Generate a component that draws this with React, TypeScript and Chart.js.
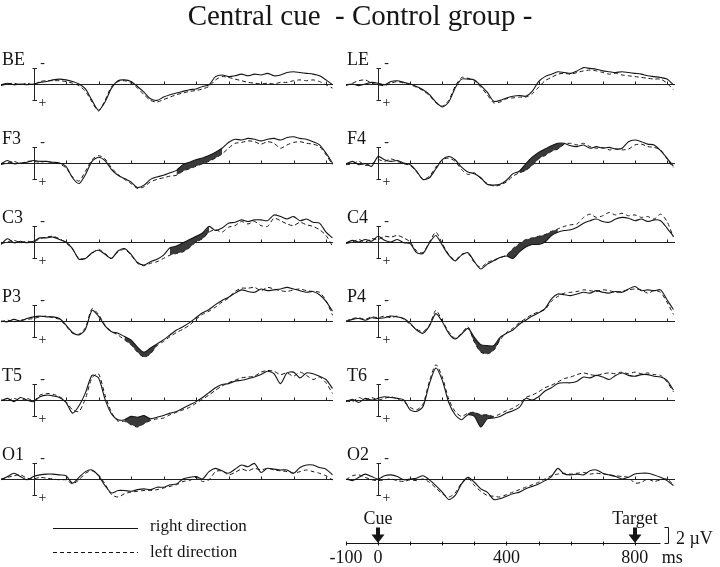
import React, { useEffect, useRef } from "react";
import { Chart, registerables } from "chart.js";

Chart.register(...registerables);

// ---------- data (µV, positive = downward, negativity plotted up) ----------
const times = [
  -100, -80, -60, -40, -20, 0, 20, 40, 60, 80,
  100, 120, 140, 160, 180, 200, 220, 240, 260, 280,
  300, 320, 340, 360, 380, 400, 420, 440, 460, 480,
  500, 520, 540, 560, 580, 600, 620, 640, 660, 680,
  700, 720, 740, 760, 780, 800, 820, 840, 860, 880,
  900, 920,
];

const BE_right = [
  0.1, -0.1, 0.1, 0, 0.1, 0, -0.2, -0.3, -0.5, -0.6,
  -0.5, -0.3, 0, 0.6, 2.0, 3.2, 2.2, 0.5, -0.4, -0.5,
  -0.3, 0.3, 1.0, 1.8, 2.0, 1.6, 1.3, 1.1, 0.9, 0.7,
  0.6, 0.3, 0.1, -0.9, -1.1, -0.9, -1.0, -1.2, -1.0, -1.2,
  -1.1, -1.3, -1.0, -1.1, -1.4, -1.5, -1.4, -1.3, -1.2, -1.0,
  -0.5, 0.1,
];
const BE_left = [
  0.2, 0, -0.1, 0.1, -0.1, 0.1, -0.3, -0.4, -0.4, -0.4,
  -0.3, -0.1, 0.2, 0.9, 2.2, 3.3, 2.0, 0.3, -0.3, -0.4,
  -0.1, 0.5, 1.3, 2.0, 2.2, 1.9, 1.6, 1.3, 1.1, 0.9,
  0.8, 0.6, 0.3, -0.5, -0.9, -0.8, -0.6, -0.4, -0.2, -0.1,
  0, -0.1, 0, -0.2, -0.2, -0.4, -0.5, -0.4, -0.5, -0.3,
  0.1, 0.5,
];

const LE_right = [
  0.1, 0, 0.2, 0, -0.2, -0.1, 0.1, -0.3, -0.4, -0.2,
  0, 0.3, 0.7, 1.3, 2.2, 2.8, 2.2, 0.5, -0.6, -0.6,
  -0.5, 0.2, 1.0, 2.1, 2.0, 1.7, 1.5, 1.4, 1.5, 0.9,
  -0.3, -0.9, -1.2, -1.5, -1.4, -1.3, -1.6, -2.0, -1.9, -1.8,
  -1.6, -1.5, -1.4, -1.5, -1.4, -1.3, -1.2, -1.0, -0.9, -0.8,
  -0.6, 0.1,
];
const LE_left = [
  0.2, -0.1, -0.4, -0.5, -0.1, 0.1, 0.2, -0.1, -0.3, -0.1,
  0.1, 0.4, 0.8, 1.4, 2.3, 2.7, 2.0, 0.3, -0.8, -0.7,
  -0.4, 0.4, 1.3, 2.3, 2.2, 1.8, 1.7, 1.6, 1.6, 1.2,
  0.4, -0.4, -0.8, -1.2, -1.3, -1.2, -1.4, -1.6, -1.7, -1.6,
  -1.4, -1.2, -1.3, -1.1, -1.0, -0.9, -0.8, -0.7, -0.6, -0.6,
  -0.1, 0.7,
];

const F3_right = [
  0.1, -0.3, 0.1, 0, -0.1, -0.3, -0.2, -0.2, -0.1, 0,
  0.4, 1.8, 2.5, 1.4, -0.2, -0.7, -0.3, 0.8, 1.5, 1.9,
  2.3, 3.0, 2.7, 2.0, 1.7, 1.5, 1.2, 0.9, 0.2, -0.1,
  -0.4, -0.6, -0.9, -1.3, -1.8, -2.5, -2.9, -2.8, -3.0, -2.9,
  -2.7, -2.9, -3.0, -2.8, -3.1, -3.2, -3.0, -2.9, -2.6, -2.2,
  -1.2, 0,
];
const F3_left = [
  0.2, 0, -0.2, 0.1, -0.2, -0.2, -0.1, -0.2, 0, 0.1,
  0.6, 1.7, 2.2, 1.0, -0.4, -0.9, -0.5, 0.6, 1.4, 2.0,
  2.5, 3.1, 2.9, 2.3, 2.0, 1.8, 1.6, 1.5, 1.0, 0.7,
  0.4, 0.1, -0.2, -0.6, -1.1, -1.8, -2.4, -2.5, -2.7, -2.6,
  -2.3, -2.6, -2.4, -1.8, -2.2, -2.5, -2.6, -2.4, -2.3, -2.0,
  -1.0, 0.2,
];
const F3_shade = [440, 580];

const F4_right = [
  0.1, -0.2, 0.2, 0.1, 0.4, -0.8, -0.4, -0.2, -0.3, 0,
  0.2, 1.0, 2.0, 1.8, 0.7, -0.4, -0.8, -0.4, 0.5, 1.1,
  1.3, 1.8, 2.6, 2.7, 2.6, 2.1, 1.3, 1.0, 0.1, -0.7,
  -1.3, -1.7, -2.1, -2.4, -2.4, -2.1, -2.0, -2.2, -1.8, -2.0,
  -1.8, -1.9, -1.7, -1.8, -2.6, -2.8, -2.6, -2.3, -2.2, -1.5,
  -0.6, 0.4,
];
const F4_left = [
  0.2, 0.1, -0.2, 0.3, 0.1, -0.4, -0.2, -0.5, -0.2, 0.1,
  0.3, 1.1, 2.0, 1.6, 0.5, -0.4, -0.6, -0.2, 0.8, 1.4,
  1.2, 1.9, 2.5, 2.8, 2.7, 2.3, 1.6, 1.2, 0.9, 0.3,
  -0.5, -0.9, -1.4, -1.7, -2.3, -2.4, -2.2, -2.4, -2.0, -1.8,
  -1.9, -1.6, -1.7, -1.6, -1.7, -2.2, -2.3, -2.0, -1.9, -1.6,
  -0.5, 0.6,
];
const F4_shade = [440, 580];

const C3_right = [
  0.3, -0.4, 0.1, -0.1, 0.1, -0.1, -0.5, -0.5, -0.6, -0.3,
  0, 0.8, 2.1, 2.0, 1.3, 1.0, 1.5, 2.0, 1.1, 0.8,
  1.5, 2.5, 2.8, 2.4, 2.1, 1.6, 0.7, 0.5, 0.1, -0.3,
  -0.7, -1.1, -1.9, -1.4, -1.7, -2.3, -2.4, -2.7, -2.5, -2.7,
  -2.7, -2.6, -3.3, -3.1, -2.8, -3.1, -2.6, -2.8, -2.4, -2.3,
  -1.2, -0.5,
];
const C3_left = [
  0.2, 0, -0.2, 0.1, -0.1, 0, -0.4, -0.6, -0.7, -0.4,
  0.1, 0.9, 2.0, 2.0, 1.4, 0.9, 1.4, 2.0, 1.2, 0.9,
  1.6, 2.6, 2.9, 2.6, 2.4, 2.0, 1.6, 1.4, 1.2, 0.7,
  0, -0.4, -1.2, -1.5, -1.2, -1.8, -2.0, -2.5, -2.2, -2.5,
  -2.0, -1.9, -2.9, -2.6, -2.2, -2.0, -2.4, -2.1, -1.9, -1.5,
  -0.8, 0.5,
];
const C3_shade = [420, 540];

const C4_right = [
  0.1, -0.2, 0, -0.3, -0.1, -0.7, -0.2, 0, -0.3, 0.1,
  0.2, 1.3, 1.4, 0.1, -0.8, 0.4, 1.6, 2.3, 1.6, 1.3,
  2.4, 3.3, 2.7, 2.3, 1.9, 1.7, 2.0, 1.2, 0.6, 0.3,
  0.3, 0.0, -0.8, -1.2, -1.4, -1.5, -1.8, -2.3, -2.6, -2.8,
  -2.5, -2.4, -2.8, -3.0, -2.9, -2.6, -2.8, -2.5, -2.7, -2.6,
  -1.7, -0.7,
];
const C4_left = [
  0.2, 0, -0.3, 0, -0.4, -0.3, -0.7, -0.6, -0.8, -0.5,
  0, 1.1, 1.3, 0.0, -1.2, 0.2, 1.5, 2.2, 1.5, 1.4,
  2.5, 3.1, 2.5, 2.2, 1.9, 1.6, 0.8, 0.2, -0.3, -0.5,
  -0.7, -0.9, -1.3, -1.6, -1.9, -2.1, -2.2, -3.0, -3.4, -3.0,
  -3.2, -3.6, -3.3, -3.5, -3.2, -3.3, -3.0, -3.1, -2.8, -3.4,
  -2.5, -0.6,
];
const C4_shade = [400, 560];

const P3_right = [
  0, 0.1, -0.2, 0, -0.3, -0.5, -0.6, -0.5, -0.5, -0.3,
  0.5, 1.4, 1.7, 1.0, -1.3, -0.6, 0.6, 1.3, 1.5, 1.9,
  2.3, 3.2, 3.8, 3.3, 2.8, 2.3, 1.7, 1.1, 0.7, 0.2,
  -0.4, -1.0, -1.4, -2.0, -2.5, -2.9, -3.4, -3.8, -3.6, -3.5,
  -3.9, -3.7, -3.8, -3.9, -4.1, -3.9, -3.7, -3.5, -3.6, -3.2,
  -2.4, -1.2,
];
const P3_left = [
  0.1, -0.1, 0.1, -0.1, -0.2, -0.3, -0.5, -0.6, -0.4, -0.2,
  0.6, 1.5, 1.6, 0.8, -1.5, -0.8, 0.5, 1.3, 1.7, 2.3,
  2.9, 3.8, 4.4, 4.0, 3.0, 2.5, 1.9, 1.4, 1.0, 0.5,
  -0.2, -0.8, -1.2, -1.7, -2.3, -2.8, -3.6, -4.0, -4.0, -4.1,
  -3.7, -4.1, -3.9, -3.7, -3.6, -3.8, -3.9, -3.7, -3.6, -3.5,
  -2.5, -0.7,
];
const P3_shade = [280, 380];

const P4_right = [
  0.1, -0.2, -0.3, -0.1, -0.4, -0.3, -0.4, -0.6, -0.5, -0.3,
  0.3, 1.1, 1.5, 0.6, -0.9, 0.1, 1.5, 2.2, 1.6, 0.9,
  2.0, 2.9, 3.0, 3.0, 2.0, 1.5, 1.1, 0.4, -0.1, -0.6,
  -1.0, -1.5, -2.7, -3.3, -3.2, -3.1, -3.3, -3.5, -3.4, -3.7,
  -3.5, -3.4, -3.6, -3.5, -3.9, -4.2, -3.7, -3.8, -3.7, -3.8,
  -2.6, -1.4,
];
const P4_left = [
  0, -0.3, -0.4, -0.2, -0.5, -0.4, -0.6, -0.4, -0.6, -0.2,
  0.4, 1.0, 1.3, 0.5, -1.3, 0, 1.3, 2.1, 1.5, 0.7,
  2.6, 3.8, 4.0, 3.6, 2.3, 1.4, 0.9, 0.2, -0.3, -0.8,
  -1.1, -1.4, -2.4, -3.0, -3.4, -3.5, -3.6, -3.8, -3.7, -3.6,
  -3.8, -3.7, -3.5, -3.6, -3.8, -3.9, -3.8, -3.4, -3.7, -3.5,
  -2.3, -0.8,
];
const P4_shade = [280, 380];

const T5_right = [
  0.1, -0.2, 0.2, -0.3, 0, 0.2, -0.4, -0.6, -0.5, -0.3,
  0.3, 1.6, 0.7, -0.9, -3.0, -2.7, -0.1, 1.7, 2.4, 2.4,
  2.0, 2.1, 1.9, 2.3, 2.1, 1.9, 1.6, 1.4, 1.0, 0.6,
  0.2, -0.3, -0.9, -1.5, -1.9, -2.0, -2.3, -2.4, -2.6, -2.8,
  -3.1, -3.5, -3.2, -2.0, -3.3, -3.4, -2.7, -3.3, -3.2, -2.9,
  -2.5, -1.4,
];
const T5_left = [
  0, 0.1, -0.2, 0.1, -0.2, 0.1, -0.6, -0.8, -0.7, -0.4,
  0.2, 1.2, 1.4, -0.2, -2.7, -3.2, -0.6, 1.5, 2.6, 2.6,
  3.0, 3.3, 2.9, 2.5, 2.3, 2.2, 1.8, 1.5, 1.2, 0.9,
  0.4, -0.1, -0.6, -1.2, -1.7, -2.1, -2.4, -2.7, -2.8, -2.9,
  -3.4, -3.6, -3.5, -3.1, -3.3, -2.9, -3.4, -3.0, -2.5, -2.8,
  -2.1, -0.8,
];
const T5_shade = [280, 360];

const T6_right = [
  0.2, -0.1, 0.3, -0.2, 0, -0.2, -0.4, -0.3, -0.2, 0,
  1.2, 1.4, 0.8, -2.0, -3.9, -2.4, 0.3, 1.8, 2.4, 1.8,
  2.0, 3.3, 2.3, 2.2, 2.0, 1.6, 1.3, 0.9, -0.2, 0,
  -0.4, -1.1, -1.5, -2.0, -2.1, -2.1, -2.3, -2.8, -2.7, -3.0,
  -2.8, -2.5, -3.0, -3.3, -3.0, -2.9, -3.1, -3.1, -2.9, -2.8,
  -2.4, -1.2,
];
const T6_left = [
  0.1, 0.2, -0.3, 0, -0.3, 0, -0.2, -0.4, -0.1, 0.2,
  0.9, 1.2, 0.5, -2.3, -4.3, -2.8, -0.1, 1.4, 2.0, 1.6,
  1.5, 1.8, 1.8, 2.0, 1.7, 1.3, 1.0, 0.5, -0.3, -0.6,
  -1.0, -1.5, -1.8, -2.2, -2.6, -2.8, -3.1, -3.3, -3.1, -3.0,
  -3.2, -3.3, -3.2, -3.4, -3.2, -3.4, -3.2, -3.3, -3.1, -3.0,
  -2.2, -1.0,
];
const T6_shade = [280, 360];

const O1_right = [
  0.1, -0.3, -0.7, -0.3, 0.1, -0.3, -0.5, -0.6, -0.6, -0.5,
  -0.4, 0.5, -0.2, -0.9, -1.1, -0.4, 0.8, 1.7, 1.4, 1.4,
  1.5, 1.3, 1.2, 1.3, 1.0, 1.0, 0.7, 0.6, 0, -0.2,
  -0.3, 0, -0.9, -1.3, -1.0, -0.7, -1.2, -1.7, -1.5, -1.9,
  -0.8, -1.3, -1.2, -1.1, -1.1, -0.7, -1.4, -1.7, -1.7, -1.4,
  -1.2, -0.5,
];
const O1_left = [
  0, -0.2, -0.4, -0.5, -0.1, 0, -0.2, -0.1, 0, 0.1,
  0.1, 0.6, 0.1, -0.7, -1.0, -0.5, 0.6, 1.9, 2.2, 1.8,
  1.6, 1.5, 1.4, 1.4, 1.3, 1.1, 0.9, 0.7, 0.3, 0.2,
  -0.2, 0.3, 0.1, -0.9, -1.0, -0.5, -0.8, -1.2, -1.0, -1.3,
  -1.1, -1.3, -1.1, -1.0, -0.9, -0.7, -0.9, -1.1, -0.9, -0.7,
  -0.4, 0.1,
];

const O2_right = [
  0, 0.2, -0.2, -0.6, -0.3, 0, -0.4, -0.5, -0.3, 0.1,
  0, -0.1, -0.4, 0.1, 0.8, 1.6, 2.5, 2.0, 0.6, -0.2,
  0.4, 1.2, 1.6, 2.5, 2.4, 2.1, 1.8, 1.6, 1.2, 0.9,
  0.6, 0.2, -0.3, -1.3, -0.6, -0.5, -0.6, -0.5, -1.0, -1.1,
  -0.7, -0.5, -0.3, 0, -0.2, -0.6, -0.7, -0.7, -0.5, -0.2,
  0.2, 0.8,
];
const O2_left = [
  0.1, -0.4, -0.5, -0.2, 0.1, 0.2, 0.1, 0, 0.2, 0.3,
  0.1, 0.2, 0, 0.4, 1.1, 1.8, 2.2, 1.7, 0.5, -0.1,
  0.8, 1.5, 2.0, 2.1, 2.2, 1.9, 1.6, 1.3, 1.0, 0.7,
  0.4, 0, -0.4, -0.6, -0.7, -0.6, -0.7, -0.8, -0.6, -0.7,
  -0.6, -0.5, -0.4, -0.3, -0.2, 0.5, 0.4, 0, 0.3, 0.1,
  0, 0.7,
];

const TITLE = "Central cue  - Control group -";
const zeroLineTicks = [100, 200, 300, 400, 500, 600, 700, 800, 900];
const calibration = [-2, 2]; // µV
const timeAxisTicks = [-100, 0, 100, 200, 300, 400, 500, 600, 700, 800];
const timeAxisLabels = [-100, 0, 400, 800];
const events = [
  { label: "Cue", t: 0 },
  { label: "Target", t: 800 },
];
const scaleBarUV = 2;

type Panel = {
  name: string;
  right: number[];
  left: number[];
  shade: number[] | null;
  col: number;
  row: number;
};

const PANELS: Panel[] = [
  { name: "BE", right: BE_right, left: BE_left, shade: null, col: 0, row: 0 },
  { name: "LE", right: LE_right, left: LE_left, shade: null, col: 1, row: 0 },
  { name: "F3", right: F3_right, left: F3_left, shade: F3_shade, col: 0, row: 1 },
  { name: "F4", right: F4_right, left: F4_left, shade: F4_shade, col: 1, row: 1 },
  { name: "C3", right: C3_right, left: C3_left, shade: C3_shade, col: 0, row: 2 },
  { name: "C4", right: C4_right, left: C4_left, shade: C4_shade, col: 1, row: 2 },
  { name: "P3", right: P3_right, left: P3_left, shade: P3_shade, col: 0, row: 3 },
  { name: "P4", right: P4_right, left: P4_left, shade: P4_shade, col: 1, row: 3 },
  { name: "T5", right: T5_right, left: T5_left, shade: T5_shade, col: 0, row: 4 },
  { name: "T6", right: T6_right, left: T6_left, shade: T6_shade, col: 1, row: 4 },
  { name: "O1", right: O1_right, left: O1_left, shade: null, col: 0, row: 5 },
  { name: "O2", right: O2_right, left: O2_left, shade: null, col: 1, row: 5 },
];

// ---------- layout ----------
const FONT = '"Liberation Serif", "Times New Roman", Times, serif';
const UV_PX = 8.2;
const HALF_H = 45;
const ROW_BASE = [84, 163, 242, 321, 400, 479];
const COLS = [
  { left: 1, width: 332, pxPerMs: 0.325 },
  { left: 346, width: 329, pxPerMs: 0.321 },
];
const INK = "#151515";

function pts(arr: number[]) {
  return times.map((t, i) => ({ x: t, y: arr[i] }));
}
function shadePts(arr: number[], shade: number[]) {
  return times.map((t, i) => ({ x: t, y: t >= shade[0] && t <= shade[1] ? arr[i] : null }));
}

function panelPlugin(name: string) {
  return {
    id: "erpDecor",
    beforeDatasetsDraw(chart: any) {
      const { ctx } = chart;
      const xs = chart.scales.x;
      const ys = chart.scales.y;
      const y0 = Math.round(ys.getPixelForValue(0)) + 0.5;
      ctx.save();
      ctx.strokeStyle = "#222";
      ctx.lineWidth = 1;
      ctx.beginPath();
      ctx.moveTo(xs.left, y0);
      ctx.lineTo(xs.right, y0);
      zeroLineTicks.forEach((t) => {
        const px = Math.round(xs.getPixelForValue(t)) + 0.5;
        ctx.moveTo(px, y0 - 3);
        ctx.lineTo(px, y0 + 0.5);
      });
      const xb = Math.round(xs.getPixelForValue(0)) + 0.5;
      const yt = Math.round(ys.getPixelForValue(calibration[0])) + 0.5;
      const yb = Math.round(ys.getPixelForValue(calibration[1])) + 0.5;
      ctx.moveTo(xb, yt);
      ctx.lineTo(xb, yb);
      ctx.moveTo(xb - 2, yt);
      ctx.lineTo(xb + 2.5, yt);
      ctx.moveTo(xb - 2, yb);
      ctx.lineTo(xb + 2.5, yb);
      ctx.stroke();
      ctx.fillStyle = INK;
      ctx.font = `14px ${FONT}`;
      ctx.textAlign = "center";
      ctx.textBaseline = "middle";
      ctx.fillText("-", xb + 8, yt - 5);
      ctx.fillText("+", xb + 8, yb + 3);
      ctx.textAlign = "left";
      ctx.textBaseline = "alphabetic";
      ctx.font = `18px ${FONT}`;
      ctx.fillText(name, 1, y0 - 20);
      ctx.restore();
    },
  };
}

function makePanel(canvas: HTMLCanvasElement, p: Panel) {
  const col = COLS[p.col];
  const xmax = -100 + col.width / col.pxPerMs;
  const yh = HALF_H / UV_PX;
  const datasets: any[] = [
    {
      data: pts(p.right),
      borderColor: INK,
      borderWidth: 1.1,
      pointRadius: 0,
      tension: 0.25,
      fill: false,
    },
    {
      data: pts(p.left),
      borderColor: INK,
      borderWidth: 1,
      borderDash: [4, 3],
      pointRadius: 0,
      tension: 0.25,
      fill: false,
    },
  ];
  if (p.shade) {
    datasets.push(
      {
        data: shadePts(p.right, p.shade),
        borderColor: "rgba(0,0,0,0)",
        borderWidth: 0,
        pointRadius: 0,
        tension: 0.25,
        fill: false,
        spanGaps: false,
      },
      {
        data: shadePts(p.left, p.shade),
        borderColor: "rgba(0,0,0,0)",
        borderWidth: 0,
        pointRadius: 0,
        tension: 0.25,
        spanGaps: false,
        fill: "-1",
        backgroundColor: "#3a3a3a",
      }
    );
  }
  return new Chart(canvas, {
    type: "line",
    data: { datasets },
    options: {
      responsive: false,
      animation: false,
      events: [],
      layout: { padding: 0 },
      plugins: { legend: { display: false }, tooltip: { enabled: false } },
      scales: {
        x: { type: "linear", min: -100, max: xmax, display: false },
        y: { type: "linear", min: -yh, max: yh, reverse: true, display: false },
      },
    } as any,
    plugins: [panelPlugin(p.name)],
  });
}

function makeTitle(canvas: HTMLCanvasElement) {
  return new Chart(canvas, {
    type: "line",
    data: { datasets: [] },
    options: {
      responsive: false,
      animation: false,
      events: [],
      layout: { padding: 0 },
      plugins: {
        legend: { display: false },
        tooltip: { enabled: false },
        title: {
          display: true,
          text: TITLE,
          color: INK,
          font: { family: FONT, size: 29, weight: "normal", lineHeight: 1.2 },
          padding: { top: 0, bottom: 0 },
        },
      },
      scales: {
        x: { type: "linear", display: false },
        y: { type: "linear", display: false },
      },
    } as any,
  });
}

const bottomPlugin = {
  id: "timeAxis",
  afterDraw(chart: any) {
    const { ctx } = chart;
    const xs = chart.scales.x;
    const ys = chart.scales.y;
    const yA = Math.round(ys.getPixelForValue(0)) + 0.5;
    ctx.save();
    ctx.strokeStyle = INK;
    ctx.fillStyle = INK;
    ctx.lineWidth = 1;
    // axis
    ctx.beginPath();
    ctx.moveTo(xs.getPixelForValue(-100), yA);
    ctx.lineTo(xs.getPixelForValue(xs.max), yA);
    timeAxisTicks.forEach((t) => {
      const px = Math.round(xs.getPixelForValue(t)) + 0.5;
      ctx.moveTo(px, yA - 2);
      ctx.lineTo(px, yA + 2);
    });
    ctx.stroke();
    ctx.font = `18px ${FONT}`;
    ctx.textAlign = "center";
    ctx.textBaseline = "alphabetic";
    timeAxisLabels.forEach((t) => {
      ctx.fillText(String(t), xs.getPixelForValue(t), yA + 19);
    });
    ctx.textAlign = "left";
    ctx.fillText("ms", xs.getPixelForValue(800) + 27, yA + 19);
    // event arrows
    events.forEach((e) => {
      const px = Math.round(xs.getPixelForValue(e.t));
      ctx.textAlign = "center";
      ctx.fillText(e.label, px, yA - 20);
      ctx.fillRect(px - 2, yA - 16, 4, 8);
      ctx.beginPath();
      ctx.moveTo(px - 6.5, yA - 9);
      ctx.lineTo(px + 6.5, yA - 9);
      ctx.lineTo(px, yA - 0.5);
      ctx.closePath();
      ctx.fill();
    });
    // calibration bar
    const bx = 668.5;
    const yTop = Math.round(ys.getPixelForValue(scaleBarUV)) + 0.5;
    ctx.beginPath();
    ctx.moveTo(bx - 4, yTop);
    ctx.lineTo(bx, yTop);
    ctx.lineTo(bx, yA);
    ctx.lineTo(bx - 4, yA);
    ctx.stroke();
    ctx.textAlign = "left";
    ctx.fillText(`${scaleBarUV} µV`, 676, yA);
    // legend
    ctx.font = `17px ${FONT}`;
    ctx.beginPath();
    ctx.moveTo(53, 23.5);
    ctx.lineTo(138, 23.5);
    ctx.stroke();
    ctx.fillText("right direction", 150, 26);
    ctx.setLineDash([4, 3]);
    ctx.beginPath();
    ctx.moveTo(53, 47.5);
    ctx.lineTo(138, 47.5);
    ctx.stroke();
    ctx.setLineDash([]);
    ctx.fillText("left direction", 150, 52);
    ctx.restore();
  },
};

function makeBottom(canvas: HTMLCanvasElement) {
  return new Chart(canvas, {
    type: "line",
    data: { datasets: [] },
    options: {
      responsive: false,
      animation: false,
      events: [],
      layout: { padding: { left: 346, right: 59.5, top: 0, bottom: 24 } },
      plugins: { legend: { display: false }, tooltip: { enabled: false } },
      scales: {
        x: { type: "linear", min: -100, max: 880, display: false },
        y: { type: "linear", min: 0, max: 38 / UV_PX, display: false },
      },
    } as any,
    plugins: [bottomPlugin],
  });
}

export default function App() {
  const panelRefs = useRef<(HTMLCanvasElement | null)[]>([]);
  const bottomRef = useRef<HTMLCanvasElement | null>(null);
  const titleRef = useRef<HTMLCanvasElement | null>(null);

  useEffect(() => {
    const charts: Chart[] = [];
    if (titleRef.current) charts.push(makeTitle(titleRef.current));
    PANELS.forEach((p, i) => {
      const c = panelRefs.current[i];
      if (c) charts.push(makePanel(c, p));
    });
    if (bottomRef.current) charts.push(makeBottom(bottomRef.current));
    return () => charts.forEach((ch) => ch.destroy());
  }, []);

  return (
    <div
      style={{
        position: "absolute",
        left: 0,
        top: 0,
        width: 720,
        height: 567,
        background: "#fff",
        overflow: "hidden",
      }}
    >
      <canvas
        ref={titleRef}
        width={720}
        height={36}
        style={{ position: "absolute", left: 0, top: 0, width: 720, height: 36 }}
      />
      {PANELS.map((p, i) => {
        const col = COLS[p.col];
        return (
          <canvas
            key={p.name}
            ref={(el) => {
              panelRefs.current[i] = el;
            }}
            width={col.width}
            height={HALF_H * 2}
            style={{
              position: "absolute",
              left: col.left,
              top: ROW_BASE[p.row] - HALF_H,
              width: col.width,
              height: HALF_H * 2,
            }}
          />
        );
      })}
      <canvas
        ref={bottomRef}
        width={720}
        height={62}
        style={{ position: "absolute", left: 0, top: 505, width: 720, height: 62 }}
      />
    </div>
  );
}
